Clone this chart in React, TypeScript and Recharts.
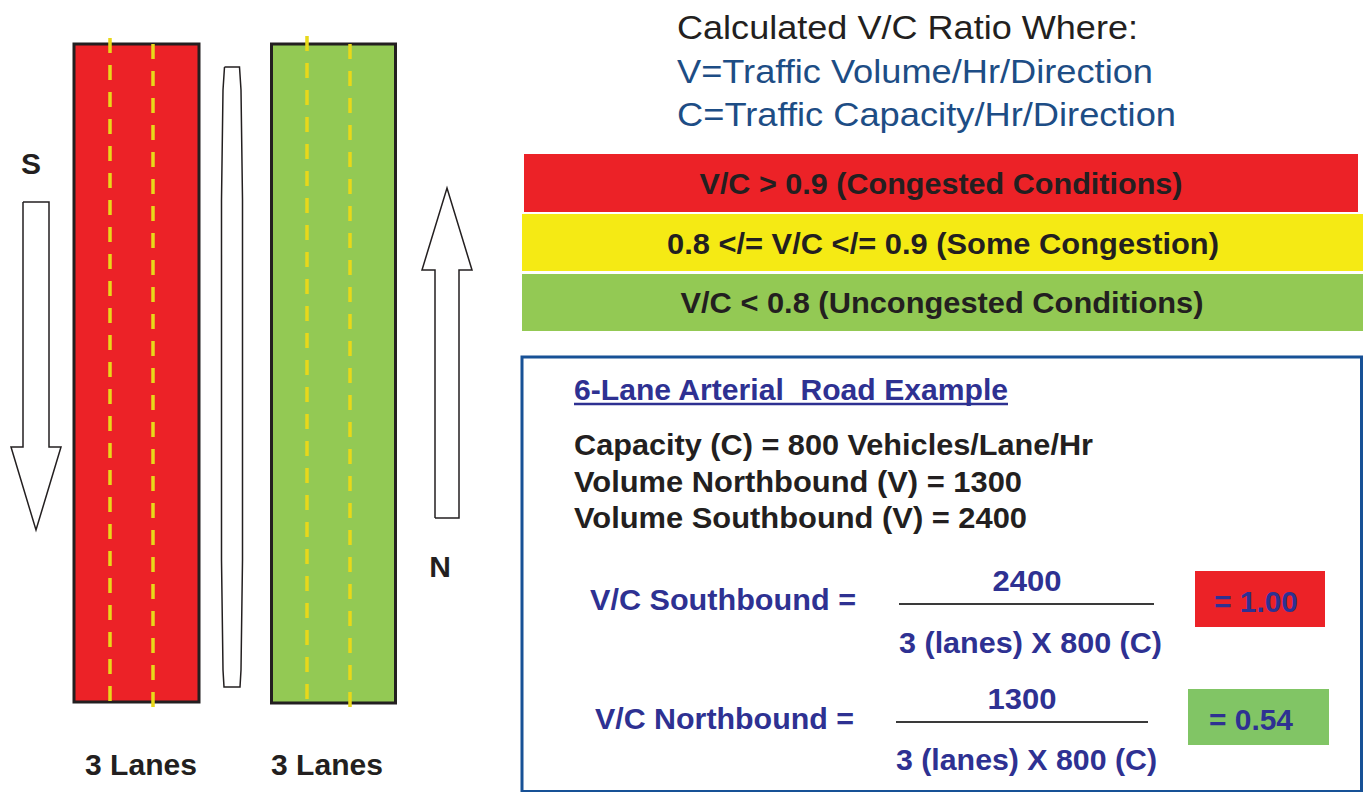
import {
  ComposedChart,
  Line,
  ReferenceArea,
  ReferenceLine,
  Scatter,
  XAxis,
  YAxis,
} from "recharts";

const W = 1363;
const H = 792;
const font = "'Liberation Sans', Arial, Helvetica, sans-serif";

const ink = "#231f20";
const navy = "#2e3192";
const steel = "#1d4d85";
const frame = "#175196";
const red = "#ec2227";
const yellow = "#f5ea14";
const green = "#93c954";
const greenBox = "#81c565";
const laneYellow = "#e8d81a";

// ---- values shown in the figure ----
const definitionLines = [
  "Calculated V/C Ratio Where:",
  "V=Traffic Volume/Hr/Direction",
  "C=Traffic Capacity/Hr/Direction",
];
const conditionLabels = [
  "V/C > 0.9 (Congested Conditions)",
  "0.8 </= V/C </= 0.9 (Some Congestion)",
  "V/C < 0.8 (Uncongested Conditions)",
];
const conditionColors = [red, yellow, green];
const exampleTitle = "6-Lane Arterial  Road Example";
const capacityPerLane = 800;
const lanesPerDirection = 3;
const directionNames = ["Northbound", "Southbound"];
const directionVolumes = [1300, 2400];
const compassLetters = ["S", "N"];

const ratio = (v: number) => v / (lanesPerDirection * capacityPerLane);
const ratioColor = (r: number) => (r > 0.9 ? red : r >= 0.8 ? yellow : greenBox);

// ---- drawing layout (page pixels) ----
const roads = [
  { x1: 74, x2: 199, y1: 44, y2: 702, fill: red },
  { x1: 271.5, x2: 395.5, y1: 44, y2: 703, fill: green },
];
const laneDividers = [
  { x: 110, y1: 38, y2: 702 },
  { x: 153, y1: 44, y2: 707 },
  { x: 307, y1: 36, y2: 700 },
  { x: 350, y1: 44, y2: 707 },
];
const median = [
  { x: 224.5, y: 67 }, { x: 239.5, y: 67 }, { x: 241, y: 90 }, { x: 242.5, y: 200 },
  { x: 242.5, y: 560 }, { x: 241, y: 670 }, { x: 240, y: 687 }, { x: 224, y: 687 },
  { x: 223, y: 670 }, { x: 221.5, y: 560 }, { x: 221.5, y: 200 }, { x: 223, y: 90 },
  { x: 224.5, y: 67 },
];
const arrowDown = [
  { x: 23, y: 202 }, { x: 49, y: 202 }, { x: 49, y: 447 }, { x: 61, y: 447 },
  { x: 36, y: 530 }, { x: 11, y: 447 }, { x: 23, y: 447 }, { x: 23, y: 202 },
];
const arrowUp = [
  { x: 435, y: 518 }, { x: 459, y: 518 }, { x: 459, y: 270 }, { x: 472, y: 270 },
  { x: 447, y: 188 }, { x: 422, y: 270 }, { x: 435, y: 270 }, { x: 435, y: 518 },
];
const conditionBars = [
  { x1: 524, x2: 1358, y1: 154, y2: 212, tx: 941, ty: 194, w: 483 },
  { x1: 522, x2: 1363, y1: 214, y2: 271, tx: 943, ty: 254, w: 552 },
  { x1: 522, x2: 1363, y1: 274, y2: 331, tx: 942, ty: 313, w: 523 },
];
const definitionPos = [
  { y: 39, w: 461 },
  { y: 83, w: 476 },
  { y: 126, w: 499 },
];
const box = { x1: 522, x2: 1361.5, y1: 357, y2: 791.5 };
const volumePos = [
  { y: 492, w: 448 },
  { y: 528, w: 453 },
];
// southbound first, then northbound
const fractionPos = [
  { idx: 1, lx: 590, ly: 610, lw: 266, nx: 1027, ny: 591, lineX: [899, 1154], lineY: 604, dx: 899, dy: 653, dw: 263, box: [1195, 1325, 571, 627], rx: 1214, ry: 612 },
  { idx: 0, lx: 595, ly: 729, lw: 259, nx: 1022, ny: 709, lineX: [896, 1148], lineY: 722, dx: 896, dy: 770, dw: 261, box: [1188, 1329, 689, 745], rx: 1209, ry: 730 },
];

type TextMark = {
  x: number;
  y: number;
  text: string;
  size: number;
  bold?: boolean;
  fill: string;
  anchor?: "start" | "middle" | "end";
  w?: number;
};

const texts: TextMark[] = [
  ...definitionLines.map((t, i) => ({
    x: 677, y: definitionPos[i].y, text: t, size: 34, fill: i === 0 ? ink : steel, w: definitionPos[i].w,
  })),
  ...conditionLabels.map((t, i) => ({
    x: conditionBars[i].tx, y: conditionBars[i].ty, text: t, size: 29, bold: true, fill: ink,
    anchor: "middle" as const, w: conditionBars[i].w,
  })),
  { x: 574, y: 400, text: exampleTitle, size: 29, bold: true, fill: navy, w: 434 },
  { x: 574, y: 455, text: `Capacity (C) = ${capacityPerLane} Vehicles/Lane/Hr`, size: 29, bold: true, fill: ink, w: 519 },
  ...directionNames.map((d, i) => ({
    x: 574, y: volumePos[i].y, text: `Volume ${d} (V) = ${directionVolumes[i]}`, size: 29, bold: true, fill: ink, w: volumePos[i].w,
  })),
  ...fractionPos.flatMap((f) => {
    const v = directionVolumes[f.idx];
    return [
      { x: f.lx, y: f.ly, text: `V/C ${directionNames[f.idx]} =`, size: 29, bold: true, fill: navy, w: f.lw },
      { x: f.nx, y: f.ny, text: String(v), size: 29, bold: true, fill: navy, anchor: "middle" as const, w: 69 },
      { x: f.dx, y: f.dy, text: `${lanesPerDirection} (lanes) X ${capacityPerLane} (C)`, size: 29, bold: true, fill: navy, w: f.dw },
      { x: f.rx, y: f.ry, text: `= ${ratio(v).toFixed(2)}`, size: 29, bold: true, fill: navy, w: 84 },
    ];
  }),
  { x: 31, y: 174, text: compassLetters[0], size: 30, bold: true, fill: ink, anchor: "middle" },
  { x: 440, y: 577, text: compassLetters[1], size: 30, bold: true, fill: ink, anchor: "middle" },
  { x: 85, y: 775, text: `${lanesPerDirection} Lanes`, size: 30, bold: true, fill: ink, w: 112 },
  { x: 271, y: 775, text: `${lanesPerDirection} Lanes`, size: 30, bold: true, fill: ink, w: 112 },
];

function TextShape(props: any) {
  const { cx, cy, payload } = props;
  const p = payload as TextMark;
  return (
    <text
      x={cx}
      y={cy}
      fontFamily={font}
      fontSize={p.size}
      fontWeight={p.bold ? 700 : 400}
      fill={p.fill}
      textAnchor={p.anchor ?? "start"}
      textLength={p.w}
      lengthAdjust={p.w ? "spacingAndGlyphs" : undefined}
      style={{ whiteSpace: "pre" }}
    >
      {p.text}
    </text>
  );
}

export default function App() {
  return (
    <div style={{ position: "absolute", left: 0, top: 0, width: W, height: H, background: "#fff" }}>
      <ComposedChart width={W} height={H} margin={{ top: 0, right: 0, bottom: 0, left: 0 }}>
        <XAxis hide type="number" dataKey="x" domain={[0, W]} allowDataOverflow />
        <YAxis hide type="number" dataKey="y" domain={[0, H]} reversed allowDataOverflow />

        {roads.map((r, i) => (
          <ReferenceArea key={`road${i}`} x1={r.x1} x2={r.x2} y1={r.y1} y2={r.y2}
            fill={r.fill} fillOpacity={1} stroke={ink} strokeWidth={3} />
        ))}
        {laneDividers.map((l, i) => (
          <ReferenceLine key={`lane${i}`} segment={[{ x: l.x, y: l.y1 }, { x: l.x, y: l.y2 }]}
            stroke={laneYellow} strokeWidth={3.5} strokeDasharray="15 12" />
        ))}

        {conditionBars.map((b, i) => (
          <ReferenceArea key={`cond${i}`} x1={b.x1} x2={b.x2} y1={b.y1} y2={b.y2}
            fill={conditionColors[i]} fillOpacity={1} stroke="none" />
        ))}

        <ReferenceArea x1={box.x1} x2={box.x2} y1={box.y1} y2={box.y2}
          fill="#fff" fillOpacity={1} stroke={frame} strokeWidth={3} />
        <ReferenceLine segment={[{ x: 574, y: 404 }, { x: 1008, y: 404 }]} stroke={navy} strokeWidth={2.5} />

        {fractionPos.map((f, i) => (
          <ReferenceLine key={`frac${i}`} segment={[{ x: f.lineX[0], y: f.lineY }, { x: f.lineX[1], y: f.lineY }]}
            stroke="#3a3a3a" strokeWidth={2} />
        ))}
        {fractionPos.map((f, i) => (
          <ReferenceArea key={`res${i}`} x1={f.box[0]} x2={f.box[1]} y1={f.box[2]} y2={f.box[3]}
            fill={ratioColor(ratio(directionVolumes[f.idx]))} fillOpacity={1} stroke="none" />
        ))}

        <Line data={median} dataKey="y" type="linear" stroke={ink} strokeWidth={1.5} fill="none"
          dot={false} activeDot={false} isAnimationActive={false} />
        <Line data={arrowDown} dataKey="y" type="linear" stroke={ink} strokeWidth={1.5} fill="none"
          dot={false} activeDot={false} isAnimationActive={false} />
        <Line data={arrowUp} dataKey="y" type="linear" stroke={ink} strokeWidth={1.5} fill="none"
          dot={false} activeDot={false} isAnimationActive={false} />

        <Scatter data={texts} dataKey="y" shape={(p: any) => <TextShape {...p} />} isAnimationActive={false} />
      </ComposedChart>
    </div>
  );
}
